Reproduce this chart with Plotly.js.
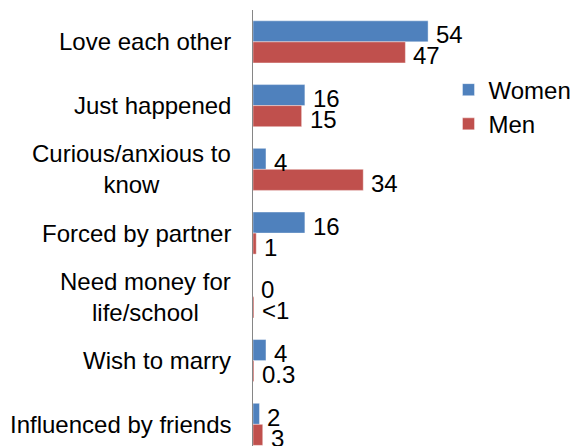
<!DOCTYPE html>
<html>
<head>
<meta charset="utf-8">
<script src="https://cdn.plot.ly/plotly-3.0.1.min.js"></script>
<style>html,body{margin:0;padding:0;background:#fff;}#chart{width:574px;height:446px;}</style>
</head>
<body>
<div id="chart"></div>
<script>
var categories = ["Love each other", "Just happened", "Curious/anxious to<br>know", "Forced by partner", "Need money for<br>life/school", "Wish to marry", "Influenced by friends"];
var women = [54, 16, 4, 16, 0, 4, 2];
var men = [47, 15, 34, 1, 0.3, 0.3, 3];
var womenText = ["54", "16", "4", "16", "0", "4", "2"];
var menText = ["47", "15", "34", "1", "<1", "0.3", "3"];

var FONT = "Liberation Sans, Arial, sans-serif";
var FS = 24;
var blue = "#4F81BD", red = "#C0504D";

var traces = [
  {type: "bar", orientation: "h", name: "Women", y: categories, x: women,
   marker: {color: blue, line: {color: "rgba(255,255,255,0.5)", width: 0.8}}, hoverinfo: "none"},
  {type: "bar", orientation: "h", name: "Men", y: categories, x: men,
   marker: {color: red, line: {color: "rgba(255,255,255,0.5)", width: 0.8}}, hoverinfo: "none"}
];

var annotations = [];
categories.forEach(function (c, i) {
  annotations.push({x: 0, y: c, xref: "paper", yref: "y", text: c, showarrow: false,
    xanchor: "right", yanchor: "middle", align: "center", xshift: -20, yshift: 0,
    font: {family: FONT, size: FS, color: "#000"}});
  annotations.push({x: women[i], y: c, xref: "x", yref: "y", text: womenText[i], showarrow: false,
    xanchor: "left", yanchor: "middle", xshift: 6, yshift: 7, font: {family: FONT, size: FS, color: "#000"}});
  annotations.push({x: men[i], y: c, xref: "x", yref: "y", text: menText[i], showarrow: false,
    xanchor: "left", yanchor: "middle", xshift: 6, yshift: -14, font: {family: FONT, size: FS, color: "#000"}});
});

var layout = {
  width: 574, height: 446,
  margin: {l: 253, r: 0, t: 10, b: 0, autoexpand: false},
  paper_bgcolor: "#fff", plot_bgcolor: "#fff",
  barmode: "group", bargap: 0.34, bargroupgap: 0,
  font: {family: FONT, size: FS, color: "#000"},
  xaxis: {range: [0, 99], showticklabels: false, showgrid: false, zeroline: false, showline: false, fixedrange: true},
  yaxis: {type: "category", range: [6.34, -0.5], showgrid: false, zeroline: false, showline: true,
          linecolor: "#868686", linewidth: 1.5, ticks: "", showticklabels: false, automargin: false},
  showlegend: true,
  legend: {x: 0.609, y: 0.868, xanchor: "left", yanchor: "top", bgcolor: "rgba(0,0,0,0)",
           font: {family: FONT, size: FS, color: "#000"}, tracegroupgap: 0},
  annotations: annotations
};

Plotly.newPlot("chart", traces, layout, {staticPlot: true, displayModeBar: false});
</script>
</body>
</html>
